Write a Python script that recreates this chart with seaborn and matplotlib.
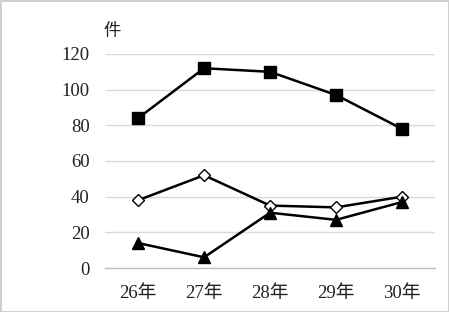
import matplotlib
matplotlib.use("Agg")
import matplotlib.pyplot as plt
import seaborn as sns
import pandas as pd

# --- Data ---
years = ["26年", "27年", "28年", "29年", "30年"]
square_vals = [84, 112, 110, 97, 78]
diamond_vals = [38, 52, 35, 34, 40]
triangle_vals = [14, 6, 31, 27, 37]

sns.set_theme(style="white")
plt.rcParams['font.family'] = ['Liberation Serif', 'Noto Sans CJK JP']

df = pd.DataFrame({
    "year": years * 3,
    "x": list(range(len(years))) * 3,
    "value": square_vals + diamond_vals + triangle_vals,
    "series": ["square"] * 5 + ["diamond"] * 5 + ["triangle"] * 5,
})

fig = plt.figure(figsize=(4.49, 3.12), dpi=100)
fig.patch.set_edgecolor("#d0d0d0")
fig.patch.set_linewidth(1.0)
ax = fig.add_axes([0.234, 0.141, 0.735, 0.686])

styles = {
    "square": dict(marker="s", markersize=8.5, markerfacecolor="black"),
    "diamond": dict(marker="D", markersize=6, markerfacecolor="white"),
    "triangle": dict(marker="^", markersize=9, markerfacecolor="black"),
}
for name, st in styles.items():
    sub = df[df["series"] == name]
    sns.lineplot(data=sub, x="x", y="value", ax=ax, color="black", linewidth=1.8,
                 markeredgecolor="black", markeredgewidth=1.0, **st)

ax.set_xlim(-0.5, len(years) - 0.5)
ax.set_ylim(0, 120)
ax.set_yticks(range(0, 121, 20))
ax.set_xticks(range(len(years)))
ax.set_xticklabels(years)
ax.set_xlabel("")
ax.set_ylabel("")
ax.tick_params(axis="both", labelsize=13.5, length=0, colors="#222222")
ax.tick_params(axis="x", pad=12)
ax.tick_params(axis="y", pad=11)
ax.grid(axis="y", color="#d9d9d9", linewidth=1)
ax.set_axisbelow(True)
for s in ["left", "right", "top"]:
    ax.spines[s].set_visible(False)
ax.spines["bottom"].set_color("#bfbfbf")
ax.spines["bottom"].set_linewidth(1)

fig.text(112 / 449, 1 - 32 / 312, "件", fontsize=12.5, ha="center", va="center", color="#222222")

fig.savefig("out.png", dpi=100)
